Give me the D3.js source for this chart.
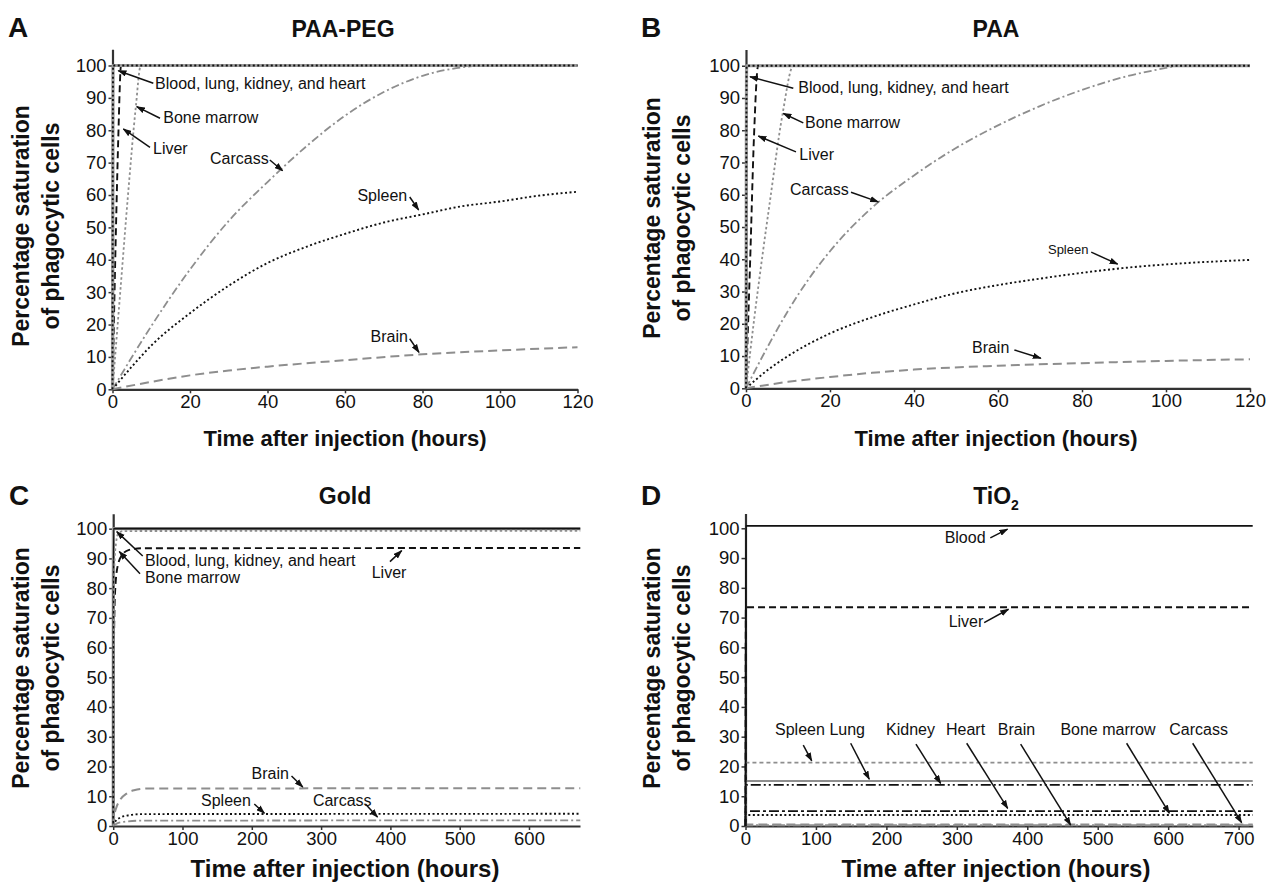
<!DOCTYPE html>
<html>
<head>
<meta charset="utf-8">
<script src="https://cdn.jsdelivr.net/npm/d3@7"></script>
<style>
  body { margin: 0; background: #fff; }
  svg text { font-family: "Liberation Sans", Arial, Helvetica, sans-serif; fill: #111; }
</style>
</head>
<body>
<svg id="chart" width="1266" height="882"></svg>
<script>
// ---- values: [hours, % saturation] ----
// A: PAA-PEG
const paaPegBlood = [[0, 0], [0.15, 100], [120, 100]];   // blood, lung, kidney, heart
const paaPegLiver = [[0, 0], [1, 55], [1.5, 78], [2.2, 100], [120, 100]];
const paaPegBoneMarrow = [[0, 0], [2, 30], [4, 60], [6, 87], [7.3, 100], [120, 100]];
const paaPegCarcass = [[0, 0], [10, 19.5], [20, 37], [30, 52], [40, 64], [50, 75], [60, 84.5], [70, 91.8], [80, 96.8], [90, 99.4], [96, 100], [120, 100]];
const paaPegSpleen = [[0, 0], [5, 7], [10, 13.5], [20, 23.5], [30, 32], [40, 39], [50, 44], [60, 48], [70, 51.5], [80, 54], [90, 56.5], [100, 58], [110, 59.8], [120, 61]];
const paaPegBrain = [[0, 0], [10, 2.3], [20, 4.3], [30, 5.8], [40, 7], [60, 9], [80, 10.8], [100, 12], [120, 13]];

// B: PAA
const paaBlood = [[0, 0], [0.15, 100], [120, 100]];
const paaLiver = [[0, 0], [0.5, 20], [1, 40], [1.9, 78], [2.9, 100], [120, 100]];
const paaBoneMarrow = [[0, 0], [2, 22], [4, 42], [5.7, 58], [8.7, 85], [11.3, 100], [120, 100]];
const paaCarcass = [[0, 0], [5, 12.5], [10, 24], [15, 34], [20, 42.5], [30, 56], [40, 66], [50, 74.5], [60, 81.5], [70, 87.5], [80, 92.5], [90, 96.5], [100, 99.3], [103, 100], [120, 100]];
const paaSpleen = [[0, 0], [5, 5.5], [10, 10], [20, 17], [30, 22], [40, 26], [50, 29.5], [60, 32], [70, 34], [80, 35.8], [90, 37.3], [100, 38.4], [110, 39.2], [120, 39.8]];
const paaBrain = [[0, 0], [10, 2], [20, 3.5], [30, 4.8], [40, 5.8], [60, 7], [80, 7.8], [100, 8.5], [120, 9]];

// C: Gold
const goldBlood = [[0, 0], [0.3, 100], [674, 100]];
const goldLiver = [[0, 0], [0.5, 45], [1.5, 68], [3, 80], [7, 88], [14, 91.5], [22, 92.8], [40, 93.4], [674, 93.5]];
const goldBoneMarrow = [[0, 0], [0.5, 55], [1.6, 87], [4, 95], [7.4, 98.4], [15, 99.2], [674, 99.3]];
const goldBrain = [[0, 0], [2, 4], [5, 6.5], [10, 8.8], [20, 11], [30, 12], [50, 12.6], [674, 12.7]];
const goldSpleen = [[0, 0], [3, 1.5], [10, 2.8], [20, 3.5], [40, 4], [674, 4.1]];
const goldCarcass = [[0, 0], [5, 0.8], [15, 1.4], [40, 1.8], [674, 1.9]];

// D: TiO2
const tio2Blood = [[0, 0], [0.5, 100.8], [720, 100.8]];
const tio2Liver = [[0, 0], [0.5, 73.5], [720, 73.5]];
const tio2Spleen = [[0, 0], [0.5, 21.3], [720, 21.3]];
const tio2Lung = [[0, 0], [0.5, 15.1], [720, 15.1]];
const tio2Kidney = [[0, 0], [0.5, 13.8], [720, 13.8]];
const tio2Heart = [[0, 0], [0.5, 5.0], [720, 5.0]];
const tio2BoneMarrow = [[0, 0], [0.5, 3.7], [720, 3.7]];
const tio2Brain = [[0, 0], [0.5, 0.5], [720, 0.5]];
const tio2Carcass = [[0, 0], [0.5, 0.25], [720, 0.25]];

const hourTicks120 = [0, 20, 40, 60, 80, 100, 120];
const hourTicks600 = [0, 100, 200, 300, 400, 500, 600];
const hourTicks700 = [0, 100, 200, 300, 400, 500, 600, 700];
const percentTicks = [0, 10, 20, 30, 40, 50, 60, 70, 80, 90, 100];

// labels: text at [h, %], arrow from -> to in the same units
const paaPegNotes = [
  { text: "Blood, lung, kidney, and heart", at: [10.97, 92.65], from: [10.53, 94.5], to: [1.5, 98.4] },
  { text: "Bone marrow", at: [13.1, 82.3], from: [12.26, 83.7], to: [6.25, 87.3] },
  { text: "Liver", at: [10.45, 72.6], from: [9.68, 74.7], to: [2.79, 80.4] },
  { text: "Carcass", at: [25.16, 69.6], from: [40.6, 70.8], to: [43.9, 67.5] },
  { text: "Spleen", at: [63.2, 58.1], from: [76.7, 59.4], to: [79.0, 55.4] },
  { text: "Brain", at: [66.6, 14.7], from: [76.7, 15.6], to: [79.1, 11.4] }
];
const paaNotes = [
  { text: "Blood, lung, kidney, and heart", at: [12.45, 91.4], from: [11.26, 93], to: [0.95, 96.6] },
  { text: "Bone marrow", at: [14.05, 80.6], from: [13.64, 82.3], to: [8.88, 85.2] },
  { text: "Liver", at: [12.69, 70.8], from: [11.9, 73.3], to: [2.93, 78.2] },
  { text: "Carcass", at: [10.48, 59.9], from: [25, 60.8], to: [31.5, 57.8] },
  { text: "Spleen", at: [71.9, 41.6], from: [82.2, 42.2], to: [88.5, 38.5], small: true },
  { text: "Brain", at: [53.8, 11], from: [63.9, 11.9], to: [70.2, 9.3] }
];
const goldNotes = [
  { text: "Blood, lung, kidney, and heart", at: [45.9, 87.5], from: [42.6, 90.8], to: [5.1, 99] },
  { text: "Bone marrow", at: [45.9, 81.6], from: [38.7, 84.8], to: [8.8, 92.3] },
  { text: "Liver", at: [373, 83.3], from: [399.4, 88.9], to: [416.3, 92.6] },
  { text: "Brain", at: [199.6, 15.7], from: [257.3, 16.8], to: [273.6, 13.1] },
  { text: "Spleen", at: [126.7, 6.7], from: [203.6, 7.4], to: [218.2, 4.3] },
  { text: "Carcass", at: [288.2, 6.7], from: [363.9, 7.4], to: [381.4, 3] }
];
const tio2Notes = [
  { text: "Blood", at: [282.7, 95.2], from: [347.5, 96.8], to: [372, 99.7] },
  { text: "Liver", at: [288.4, 66.8], from: [338.8, 68.3], to: [373.3, 72.8] },
  { text: "Spleen", at: [41.9, 30.6], from: [82, 27.2], to: [94, 21.9] },
  { text: "Lung", at: [119.1, 30.6], from: [149.3, 27.8], to: [175.7, 15.7] },
  { text: "Kidney", at: [199.5, 30.6], from: [242, 27.5], to: [277, 14.3] },
  { text: "Heart", at: [284.6, 30.6], from: [314, 27.8], to: [372.2, 5.9] },
  { text: "Brain", at: [358.1, 30.6], from: [390.6, 27.5], to: [461.6, 0.3] },
  { text: "Bone marrow", at: [447, 30.6], from: [541, 27.8], to: [601.6, 4.3] },
  { text: "Carcass", at: [601.6, 30.6], from: [634.8, 27.8], to: [704.3, 1.1] }
];

// ---- line styles ----
const GRAY = "#8e8e8e", BLACK = "#111";
const styles = {
  grayThick:   { stroke: "#9d9d9d", width: 3.2 },
  blackSolid:  { stroke: BLACK, width: 1.8 },
  blackDotted: { stroke: BLACK, width: 1.9, dash: "2,2.5" },
  blackDashed: { stroke: BLACK, width: 1.9, dash: "7,4" },
  grayDashed:  { stroke: GRAY, width: 2, dash: "9,5" },
  grayDotted:  { stroke: GRAY, width: 1.8, dash: "2.5,2.5" },
  grayShort:   { stroke: GRAY, width: 1.8, dash: "4,3" },
  grayDashDot: { stroke: GRAY, width: 1.8, dash: "8,3,2,3" },
  graySolid:   { stroke: GRAY, width: 2 },
  blackDashDot:    { stroke: BLACK, width: 1.9, dash: "10,3,3,3" },
  blackDashDotDot: { stroke: BLACK, width: 1.9, dash: "10,3,2,3,2,3" }
};

const panels = [
  {
    letter: "A", title: "PAA-PEG", xMax: 120, xTicks: hourTicks120,
    box: { left: 112.5, right: 577.5, bottom: 389.3, top: 49.3 },
    letterPos: [8, 37], titlePos: [343, 37], xLabel: { cx: 345, y: 446, size: 22 },
    yLabel: { x1: 29, x2: 59, cy: 226 },
    series: [
      [paaPegCarcass, "grayDashDot"], [paaPegSpleen, "blackDotted"], [paaPegBrain, "grayDashed"],
      [paaPegBoneMarrow, "grayDotted"], [paaPegLiver, "blackDashed"],
      [paaPegBlood, "grayThick"], [paaPegBlood, "blackDotted"]
    ],
    notes: paaPegNotes
  },
  {
    letter: "B", title: "PAA", xMax: 120, xTicks: hourTicks120,
    box: { left: 746, right: 1250, bottom: 388.3, top: 49.6 },
    letterPos: [641, 37], titlePos: [996, 37], xLabel: { cx: 996, y: 446, size: 22 },
    yLabel: { x1: 660, x2: 690, cy: 218 },
    series: [
      [paaCarcass, "grayDashDot"], [paaSpleen, "blackDotted"], [paaBrain, "grayDashed"],
      [paaBoneMarrow, "grayDotted"], [paaLiver, "blackDashed"],
      [paaBlood, "grayThick"], [paaBlood, "blackDotted"]
    ],
    notes: paaNotes
  },
  {
    letter: "C", title: "Gold", xMax: 673.6, xTicks: hourTicks600,
    box: { left: 113.2, right: 580, bottom: 826, top: 513.8 },
    letterPos: [9, 505], titlePos: [345, 504], xLabel: { cx: 345, y: 877, size: 24 },
    yLabel: { x1: 29, x2: 59, cy: 668 },
    series: [
      [goldCarcass, "grayDashDot"], [goldSpleen, "blackDotted"], [goldBrain, "grayDashed"],
      [goldLiver, "blackDashed"], [goldBlood, "grayThick"], [goldBlood, "blackSolid"],
      [goldBoneMarrow, "grayDotted"]
    ],
    notes: goldNotes
  },
  {
    letter: "D", title: "TiO", sub: "2", xMax: 720, xTicks: hourTicks700,
    box: { left: 745.5, right: 1252.7, bottom: 826, top: 513.4 },
    letterPos: [641, 505], titlePos: [996, 504], xLabel: { cx: 996, y: 877, size: 24 },
    yLabel: { x1: 660, x2: 690, cy: 668 },
    series: [
      [tio2Carcass, "grayDashDot"], [tio2Brain, "grayDashed"], [tio2BoneMarrow, "blackDotted"],
      [tio2Heart, "blackDashDot"], [tio2Lung, "graySolid"], [tio2Kidney, "blackDashDotDot"],
      [tio2Spleen, "grayShort"], [tio2Liver, "blackDashed"], [tio2Blood, "blackSolid"]
    ],
    notes: tio2Notes
  }
];

const svg = d3.select("#chart");
svg.append("rect").attr("width", 1266).attr("height", 882).attr("fill", "#fff");

svg.append("defs").append("marker")
  .attr("id", "arrow")
  .attr("viewBox", "0 0 10 7")
  .attr("refX", 9).attr("refY", 3.5)
  .attr("markerWidth", 9).attr("markerHeight", 6.5)
  .attr("markerUnits", "userSpaceOnUse")
  .attr("orient", "auto")
  .append("path").attr("d", "M0,0L10,3.5L0,7z").attr("fill", BLACK);

panels.forEach(p => {
  const x = d3.scaleLinear().domain([0, p.xMax]).range([p.box.left, p.box.right]);
  const y = d3.scaleLinear().domain([0, 105]).range([p.box.bottom, p.box.top]);
  const g = svg.append("g");

  // axes
  const xAxis = g.append("g").attr("transform", `translate(0,${p.box.bottom})`)
    .call(d3.axisBottom(x).tickValues(p.xTicks).tickSize(4).tickPadding(2).tickSizeOuter(0));
  const yAxis = g.append("g").attr("transform", `translate(${p.box.left},0)`)
    .call(d3.axisLeft(y).tickValues(percentTicks).tickSize(4).tickPadding(2).tickSizeOuter(0));
  [xAxis, yAxis].forEach(a => {
    a.select(".domain").attr("stroke", "#333").attr("stroke-width", 2.2);
    a.selectAll(".tick line").attr("stroke", "#333").attr("stroke-width", 1.5);
    a.selectAll(".tick text").attr("font-size", 18.5).attr("fill", "#111")
      .style("font-family", '"Liberation Sans", Arial, sans-serif');
  });

  // curves
  const line = d3.line().x(d => x(d[0])).y(d => y(d[1])).curve(d3.curveMonotoneX);
  p.series.forEach(([data, styleName]) => {
    const s = styles[styleName];
    g.append("path").datum(data)
      .attr("d", line)
      .attr("fill", "none")
      .attr("stroke", s.stroke)
      .attr("stroke-width", s.width)
      .attr("stroke-dasharray", s.dash || null);
  });

  // annotations
  p.notes.forEach(n => {
    g.append("text")
      .attr("x", x(n.at[0])).attr("y", y(n.at[1]))
      .attr("font-size", n.small ? 13 : 16)
      .text(n.text);
    g.append("line")
      .attr("x1", x(n.from[0])).attr("y1", y(n.from[1]))
      .attr("x2", x(n.to[0])).attr("y2", y(n.to[1]))
      .attr("stroke", BLACK).attr("stroke-width", 1.5)
      .attr("marker-end", "url(#arrow)");
  });

  // panel letter and title
  g.append("text").attr("x", p.letterPos[0]).attr("y", p.letterPos[1])
    .attr("font-size", 28).attr("font-weight", "bold").text(p.letter);
  const title = g.append("text").attr("x", p.titlePos[0]).attr("y", p.titlePos[1])
    .attr("text-anchor", "middle").attr("font-size", 23).attr("font-weight", "bold").text(p.title);
  if (p.sub) title.append("tspan").attr("font-size", 14).attr("dy", 6).text(p.sub);

  // axis titles
  g.append("text").attr("x", p.xLabel.cx).attr("y", p.xLabel.y)
    .attr("text-anchor", "middle").attr("font-size", p.xLabel.size).attr("font-weight", "bold")
    .text("Time after injection (hours)");
  [["Percentage saturation", p.yLabel.x1], ["of phagocytic cells", p.yLabel.x2]].forEach(([t, bx]) => {
    g.append("text")
      .attr("transform", `translate(${bx},${p.yLabel.cy}) rotate(-90)`)
      .attr("text-anchor", "middle").attr("font-size", 23).attr("font-weight", "bold")
      .text(t);
  });
});
</script>
</body>
</html>
